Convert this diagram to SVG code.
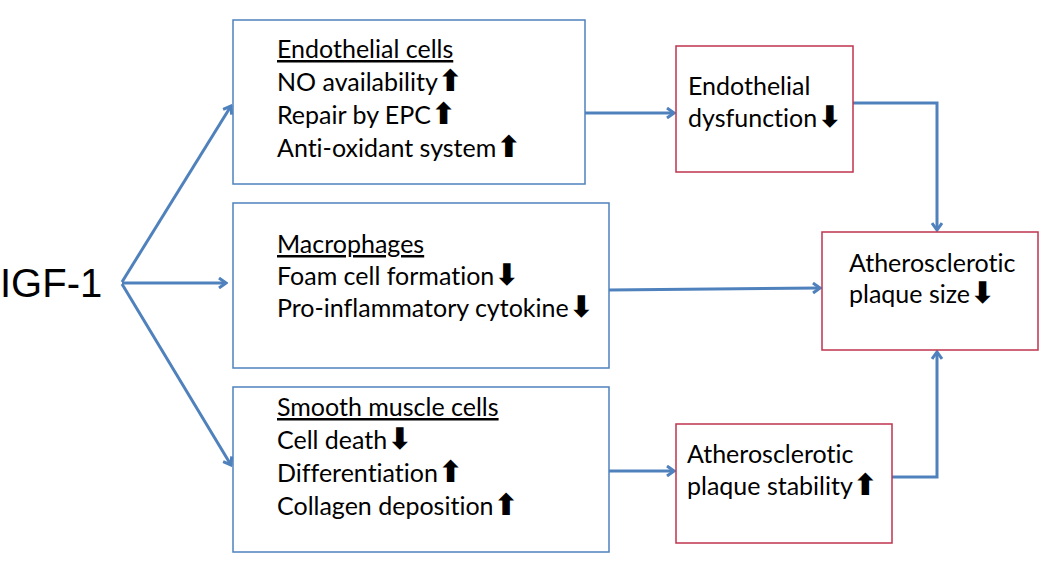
<svg xmlns="http://www.w3.org/2000/svg" width="1050" height="568" viewBox="0 0 1050 568">
<style>
.bb{fill:#fff;stroke:#4F81BD;stroke-width:1.5}
.rb{fill:#fff;stroke:#C0334D;stroke-width:1.5}
.t{font-family:Lato,"Open Sans","Liberation Sans",sans-serif;font-size:25px;fill:#000;font-variant-ligatures:none}
.u{text-decoration:underline}
.ar{font-family:"DejaVu Sans",sans-serif;font-size:30px;font-weight:bold}
.c{fill:none;stroke:#4F81BD;stroke-width:3;marker-end:url(#ah)}
</style>
<defs>
<marker id="ah" markerWidth="10" markerHeight="12" refX="8" refY="6" orient="auto" markerUnits="userSpaceOnUse">
<polyline points="1,1 8,6 1,11" fill="none" stroke="#4F81BD" stroke-width="3"/>
</marker>
</defs>
<rect width="1050" height="568" fill="#fff"/>
<g id="connectors">
<line class="c" x1="122" y1="282" x2="231" y2="106"/>
<line class="c" x1="122" y1="283" x2="226" y2="283"/>
<line class="c" x1="122" y1="284" x2="231" y2="465"/>
<line class="c" x1="585" y1="113" x2="674" y2="113"/>
<polyline class="c" points="853,103 937,103 937,230"/>
<line class="c" x1="609" y1="290" x2="820" y2="288"/>
<line class="c" x1="609" y1="471" x2="674" y2="471"/>
<polyline class="c" points="892,477 937,477 937,352"/>
</g>
<g id="igf1"><text x="0" y="297" font-family="'Liberation Sans',Arial,sans-serif" font-size="40">IGF-1</text></g>
<g id="endothelial-cells">
<rect class="bb" x="233" y="20" width="352" height="164"/>
<text class="t" x="277" y="58"><tspan class="u">Endothelial cells</tspan></text>
<text class="t" x="277" y="91">NO availability<tspan class="ar">⬆</tspan></text>
<text class="t" x="277" y="124">Repair by EPC<tspan class="ar">⬆</tspan></text>
<text class="t" x="277" y="157">Anti-oxidant system<tspan class="ar">⬆</tspan></text>
</g>
<g id="macrophages">
<rect class="bb" x="233" y="203" width="376" height="165"/>
<text class="t" x="277" y="253"><tspan class="u">Macrophages</tspan></text>
<text class="t" x="277" y="285">Foam cell formation<tspan class="ar">⬇</tspan></text>
<text class="t" x="277" y="317">Pro-inflammatory cytokine<tspan class="ar">⬇</tspan></text>
</g>
<g id="smooth-muscle-cells">
<rect class="bb" x="233" y="387" width="376" height="165"/>
<text class="t" x="277" y="416"><tspan class="u">Smooth muscle cells</tspan></text>
<text class="t" x="277" y="449">Cell death<tspan class="ar">⬇</tspan></text>
<text class="t" x="277" y="482">Differentiation<tspan class="ar">⬆</tspan></text>
<text class="t" x="277" y="515">Collagen deposition<tspan class="ar">⬆</tspan></text>
</g>
<g id="endothelial-dysfunction">
<rect class="rb" x="676" y="46" width="177" height="126"/>
<text class="t" x="688" y="95">Endothelial</text>
<text class="t" x="688" y="127">dysfunction<tspan class="ar">⬇</tspan></text>
</g>
<g id="plaque-size">
<rect class="rb" x="822" y="232" width="216" height="118"/>
<text class="t" x="849" y="272">Atherosclerotic</text>
<text class="t" x="849" y="303">plaque size<tspan class="ar">⬇</tspan></text>
</g>
<g id="plaque-stability">
<rect class="rb" x="676" y="424" width="216" height="119"/>
<text class="t" x="687" y="463">Atherosclerotic</text>
<text class="t" x="687" y="495">plaque stability<tspan class="ar">⬆</tspan></text>
</g>
</svg>
